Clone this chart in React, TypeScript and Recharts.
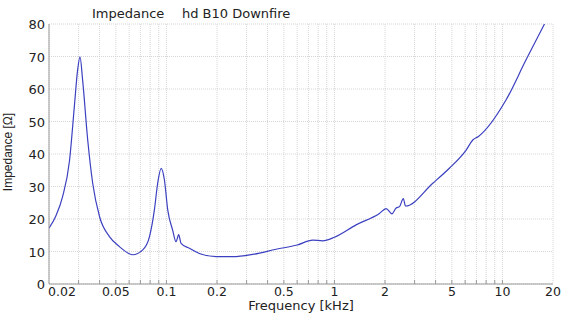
import React from 'react';
import { LineChart, Line, XAxis, YAxis, CartesianGrid } from 'recharts';

// frequency in kHz, impedance in ohm
const freqKHz = [
    0.02, 0.022, 0.0241, 0.0265, 0.0283, 0.0296, 0.0306, 0.0317, 0.034, 0.0364,
    0.04, 0.0458, 0.0525, 0.063, 0.0723, 0.0793, 0.0848, 0.0887, 0.093, 0.0973,
    0.1018, 0.1089, 0.1141, 0.1183, 0.1222, 0.137, 0.157, 0.1975, 0.248, 0.326,
    0.45, 0.6, 0.742, 0.851, 1.0, 1.346, 1.853, 2.03, 2.2, 2.33,
    2.44, 2.57, 2.65, 3.85, 4.83, 6.08, 6.66, 7.2, 10.5, 13.8, 17.8
];
const impedance = [
    17.2, 21, 26.9, 38, 54.5, 65.8, 69.9, 62.8, 44.3, 31,
    20.7, 14.6, 11.5, 9, 10.5, 14.6, 22.8, 31, 35.6, 32,
    22.8, 16.6, 13, 15.2, 12.5, 11, 9.4, 8.4, 8.4, 9.1,
    10.7, 12, 13.5, 13.3, 14.4, 18.2, 21.7, 23.2, 21.6, 23.4,
    23.8, 26.3, 24, 31, 35.6, 41.2, 44.3, 45.4, 56.6, 68.9, 80
];

const majorTicks = [0.02, 0.05, 0.1, 0.2, 0.5, 1, 2, 5, 10, 20];
const gridTicks = [
    0.02, 0.03, 0.04, 0.05, 0.06, 0.07, 0.08, 0.09,
    0.1, 0.2, 0.3, 0.4, 0.5, 0.6, 0.7, 0.8, 0.9,
    1, 2, 3, 4, 5, 6, 7, 8, 9, 10, 20
];
const yTicks = [0, 10, 20, 30, 40, 50, 60, 70, 80];

const data = freqKHz.map((f, i) => ({ f, z: impedance[i] }));

const AXIS = '#9a9a9a';
const FONT = '"DejaVu Sans", sans-serif';

const BottomTick = ({ x, y, payload }: any) => {
    const v = payload.value;
    const edge = v === 0.02 || v === 20;
    const isMajor = majorTicks.includes(v);
    const lx = v === 0.02 ? x + 13 : x;
    return (
        <g>
            {!edge && <line x1={x} x2={x} y1={y} y2={y - 4} stroke={AXIS} />}
            {isMajor && (
                <text x={lx} y={y + 12} textAnchor="middle" fontSize={12.5} fontFamily={FONT} fill="#222">
                    {String(v)}
                </text>
            )}
        </g>
    );
};

const TopTick = ({ x, y, payload }: any) => {
    const v = payload.value;
    if (v === 0.02 || v === 20) return <g />;
    return <line x1={x} x2={x} y1={y} y2={y + 4} stroke={AXIS} />;
};

const LeftTick = ({ x, y, payload }: any) => (
    <text x={x - 4} y={y} dy={5} textAnchor="end" fontSize={13} fontFamily={FONT} fill="#222">
        {payload.value}
    </text>
);

const RightTick = ({ x, y, payload }: any) => {
    const v = payload.value;
    if (v === 0 || v === 80) return <g />;
    return <line x1={x} x2={x - 5} y1={y} y2={y} stroke={AXIS} />;
};

export default function App() {
    return (
        <div style={{ position: 'relative', width: 563, height: 313, background: '#fff' }}>
            <style>{`body{margin:0}`}</style>
            <div style={{ position: 'absolute', left: 92, top: 6, fontFamily: FONT, fontSize: 13, color: '#222', whiteSpace: 'pre' }}>
                Impedance
            </div>
            <div style={{ position: 'absolute', left: 182, top: 6, fontFamily: FONT, fontSize: 13, color: '#222', whiteSpace: 'pre' }}>
                hd B10 Downfire
            </div>
            <div style={{ position: 'absolute', left: 8, top: 152, width: 0, height: 0 }}>
                <div
                    style={{
                        position: 'absolute', left: -50, top: -8, width: 100, height: 16, lineHeight: '16px',
                        textAlign: 'center', transform: 'rotate(-90deg)',
                        fontFamily: '"Liberation Sans", Arial, sans-serif', fontSize: 12, color: '#222', whiteSpace: 'nowrap',
                    }}
                >
                    Impedance [Ω]
                </div>
            </div>
            <div
                style={{
                    position: 'absolute', left: 201, width: 200, top: 299, height: 13, lineHeight: '13px',
                    textAlign: 'center', fontFamily: FONT, fontSize: 13, color: '#222',
                }}
            >
                Frequency [kHz]
            </div>
            <LineChart width={563} height={313} data={data} margin={{ top: 24, right: 10, bottom: 0, left: 0 }}>
                <CartesianGrid stroke="#d6d6d6" strokeDasharray="1 1" />
                <XAxis
                    dataKey="f"
                    type="number"
                    scale="log"
                    domain={[0.02, 20]}
                    allowDataOverflow
                    ticks={gridTicks}
                    interval={0}
                    tick={<BottomTick />}
                    tickLine={false}
                    tickSize={0}
                    tickMargin={0}
                    height={29}
                    stroke={AXIS}
                />
                <XAxis
                    xAxisId="top"
                    orientation="top"
                    type="number"
                    scale="log"
                    domain={[0.02, 20]}
                    allowDataOverflow
                    ticks={gridTicks}
                    interval={0}
                    tick={<TopTick />}
                    tickLine={false}
                    tickSize={0}
                    tickMargin={0}
                    height={0}
                    stroke={AXIS}
                />
                <YAxis
                    type="number"
                    domain={[0, 80]}
                    allowDataOverflow
                    ticks={yTicks}
                    interval={0}
                    tick={<LeftTick />}
                    tickLine={false}
                    tickSize={0}
                    tickMargin={0}
                    width={49}
                    stroke={AXIS}
                />
                <YAxis
                    yAxisId="right"
                    orientation="right"
                    type="number"
                    domain={[0, 80]}
                    allowDataOverflow
                    ticks={yTicks}
                    interval={0}
                    tick={<RightTick />}
                    tickLine={false}
                    tickSize={0}
                    tickMargin={0}
                    width={0}
                    stroke={AXIS}
                />
                <Line
                    type="monotone"
                    dataKey="z"
                    stroke="#3b40c0"
                    strokeWidth={1.2}
                    dot={false}
                    isAnimationActive={false}
                />
            </LineChart>
        </div>
    );
}
